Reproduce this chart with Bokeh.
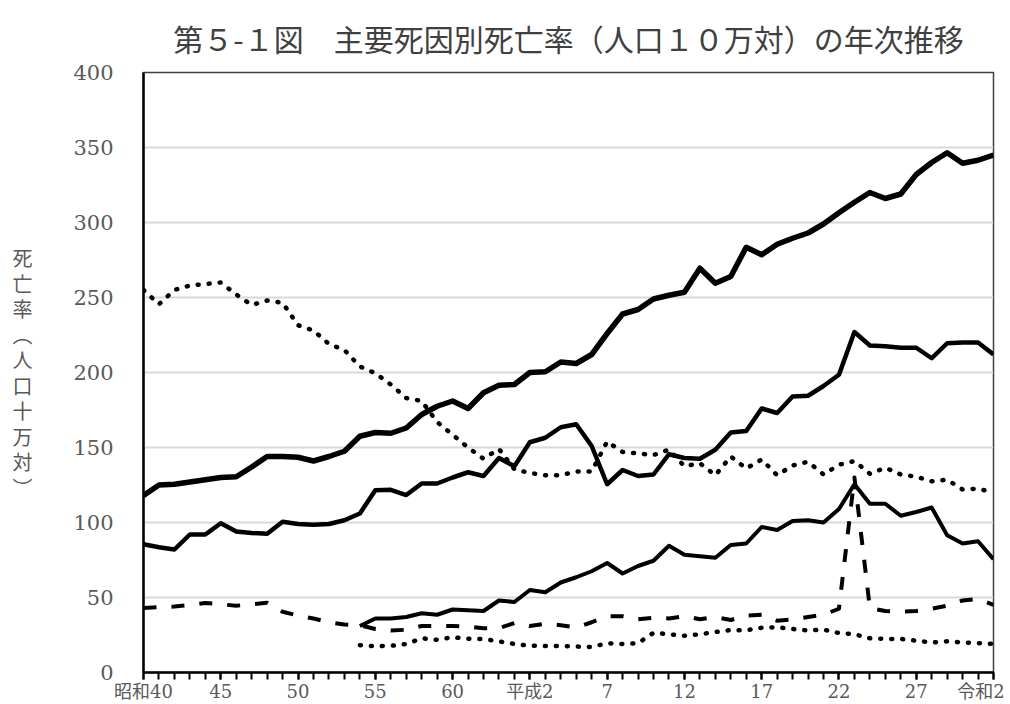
from bokeh.plotting import figure
from bokeh.models import FixedTicker, Range1d
from bokeh.embed import file_html
from bokeh.resources import INLINE

# ---------------- data ----------------
years = list(range(1965, 2021))
years_from_1979 = list(range(1979, 2021))

# 悪性新生物
cancer = [118, 125, 125.5, 127, 128.5, 130, 130.5, 137, 144, 144,
          143.5, 141, 144, 147.5, 157.5, 160, 159.5, 163, 172, 177.5,
          181, 176, 186.5, 191.5, 192, 200, 200.5, 207, 206, 212,
          226, 239, 242, 249, 251.5, 253.5, 269.5, 259.5, 264, 283.5,
          278.5, 285.5, 289.5, 293, 299, 306.5, 313.5, 320, 316, 319,
          332, 340, 346.5, 339.5, 341.5, 345]
# 心疾患
heart = [85.5, 83.5, 82, 92, 92, 99.5, 94, 93, 92.5, 100.5,
         99, 98.5, 99, 101.5, 106, 121.5, 121.8, 118.3, 126, 126,
         130, 133.5, 131, 143, 137.5, 153.5, 156.5, 163.5, 165.5, 151,
         125.5, 135, 131, 132, 145.5, 143, 142.5, 148.5, 160, 161,
         176, 173, 184, 184.5, 191, 198.5, 227, 218, 217.5, 216.5,
         216.5, 209.5, 219.5, 220, 220, 212]
# 脳血管疾患
cerebro = [255, 245.5, 255, 258, 259, 260, 252, 245, 248, 246.5,
           231.5, 228, 219, 215, 204, 199.5, 192, 183, 181, 167,
           158.5, 150, 142.5, 149, 135.5, 133, 131.5, 131.5, 134, 134,
           154, 147, 146, 145, 148.5, 137.5, 139.5, 131.5, 144, 136,
           142, 131.5, 138, 140.5, 132, 138.5, 141, 132.5, 136.5, 132,
           130.5, 127.5, 128.5, 122, 122.5, 120]
# 肺炎 (1979-)
pneumonia = [31, 36, 36, 37, 39.5, 38.5, 42, 41.5, 41, 48,
             47, 55, 53.5, 60, 63.5, 67.5, 73, 66, 71, 74.5,
             84.5, 78.5, 77.5, 76.5, 85, 86, 97, 95, 101, 101.5,
             100, 109, 125.5, 112.5, 112.5, 104.5, 107, 110, 91.5, 86,
             87.5, 75.5]
# 不慮の事故
accident = [43, 43.5, 44, 45, 46.3, 45.5, 44.5, 45.5, 46.5, 40.5,
            38, 36, 33.5, 32, 31.5, 29, 28, 28.5, 31, 31,
            31, 30.5, 29.5, 29.5, 33, 31, 32.5, 31.5, 30, 33.5,
            37.5, 37.5, 35.5, 36.5, 36, 37.5, 35.5, 37, 35, 38,
            38.5, 34.5, 35.5, 37, 38.5, 42.5, 130, 43, 41, 40.5,
            41, 42.5, 44.5, 48, 49, 45]
# 自殺 (1979-)
suicide = [18.2, 17.5, 17.8, 19, 22.8, 21.8, 23.5, 22.5, 22.3, 20.8,
           19, 17.8, 17.7, 17.7, 17.3, 17, 19.5, 19, 19.5, 26.5,
           25.5, 24.5, 25.5, 27, 28.3, 28.2, 29.8, 30.2, 29, 28,
           28.6, 26.3, 25.5, 22.8, 22.4, 22.4, 21.2, 20, 20.8, 20,
           19.6, 19]

tick_years = [1965, 1970, 1975, 1980, 1985, 1990, 1995, 2000, 2005, 2010, 2015, 2020]
tick_labels = ["昭和40", "45", "50", "55", "60", "平成2", "7", "12", "17", "22", "27",
               "令和2\u00a0"]
y_ticks = [0, 50, 100, 150, 200, 250, 300, 350, 400]

title_text = "第５-１図　主要死因別死亡率（人口１０万対）の年次推移"
y_title = "死\n亡\n率\n︵\n人\n口\n十\n万\n対\n︶"

# ---------------- figure ----------------
p = figure(width=1010, height=704,
           x_range=Range1d(1965, 2020), y_range=Range1d(0, 400),
           output_backend="svg", toolbar_location=None,
           min_border_left=143, min_border_right=17,
           min_border_top=72, min_border_bottom=30)

p.background_fill_color = "white"
p.border_fill_color = "white"
p.outline_line_color = "#404040"
p.outline_line_width = 1.5

p.title.text = title_text
p.title.align = "center"
p.title.text_font = "Noto Sans CJK JP"
p.title.text_font_size = "30px"
p.title.text_font_style = "normal"
p.title.text_color = "#404040"
p.title.standoff = 26

# grid
p.xgrid.grid_line_color = None
p.ygrid.grid_line_color = "#d9d9d9"
p.ygrid.grid_line_width = 2
p.ygrid.ticker = FixedTicker(ticks=y_ticks)

# y axis
p.yaxis.ticker = FixedTicker(ticks=y_ticks)
p.yaxis.axis_line_color = "black"
p.yaxis.axis_line_width = 2.5
p.yaxis.major_tick_line_color = None
p.yaxis.minor_tick_line_color = None
p.yaxis.major_label_standoff = 24
p.yaxis.major_label_text_font = "DejaVu Serif"
p.yaxis.major_label_text_font_size = "21px"
p.yaxis.major_label_text_color = "#595959"
p.yaxis.axis_label = y_title
p.yaxis.axis_label_orientation = "horizontal"
p.yaxis.axis_label_text_font = "Noto Sans CJK JP"
p.yaxis.axis_label_text_font_size = "20px"
p.yaxis.axis_label_text_font_style = "normal"
p.yaxis.axis_label_text_color = "#595959"
p.yaxis.axis_label_text_line_height = 0.88
p.yaxis.axis_label_standoff = 38

# x axis
p.xaxis.ticker = FixedTicker(ticks=tick_years, minor_ticks=years)
p.xaxis.major_label_overrides = {y: l for y, l in zip(tick_years, tick_labels)}
p.xaxis.axis_line_color = "black"
p.xaxis.axis_line_width = 2.5
p.xaxis.major_tick_line_color = "black"
p.xaxis.major_tick_line_width = 2
p.xaxis.major_tick_in = 0
p.xaxis.major_tick_out = 7
p.xaxis.minor_tick_line_color = "black"
p.xaxis.minor_tick_line_width = 2
p.xaxis.minor_tick_in = 0
p.xaxis.minor_tick_out = 7
p.xaxis.major_label_standoff = 1
p.xaxis.major_label_text_font = "DejaVu Serif, Noto Sans CJK JP"
p.xaxis.major_label_text_font_size = "18px"
p.xaxis.major_label_text_color = "#595959"

# ---------------- series ----------------
p.line(years, cancer, line_color="black", line_width=5.5, line_join="round")
p.line(years, heart, line_color="black", line_width=4.5, line_join="round")
p.line(years_from_1979, pneumonia, line_color="black", line_width=4, line_join="round")
p.line(years, cerebro, line_color="black", line_width=4.5, line_dash="1 10", line_cap="round")
p.line(years_from_1979, suicide, line_color="black", line_width=4.5, line_dash="1 10", line_cap="round")
p.line(years, accident, line_color="black", line_width=4, line_dash="13 15", line_join="round")

open("out.html", "w").write(file_html(p, INLINE))
